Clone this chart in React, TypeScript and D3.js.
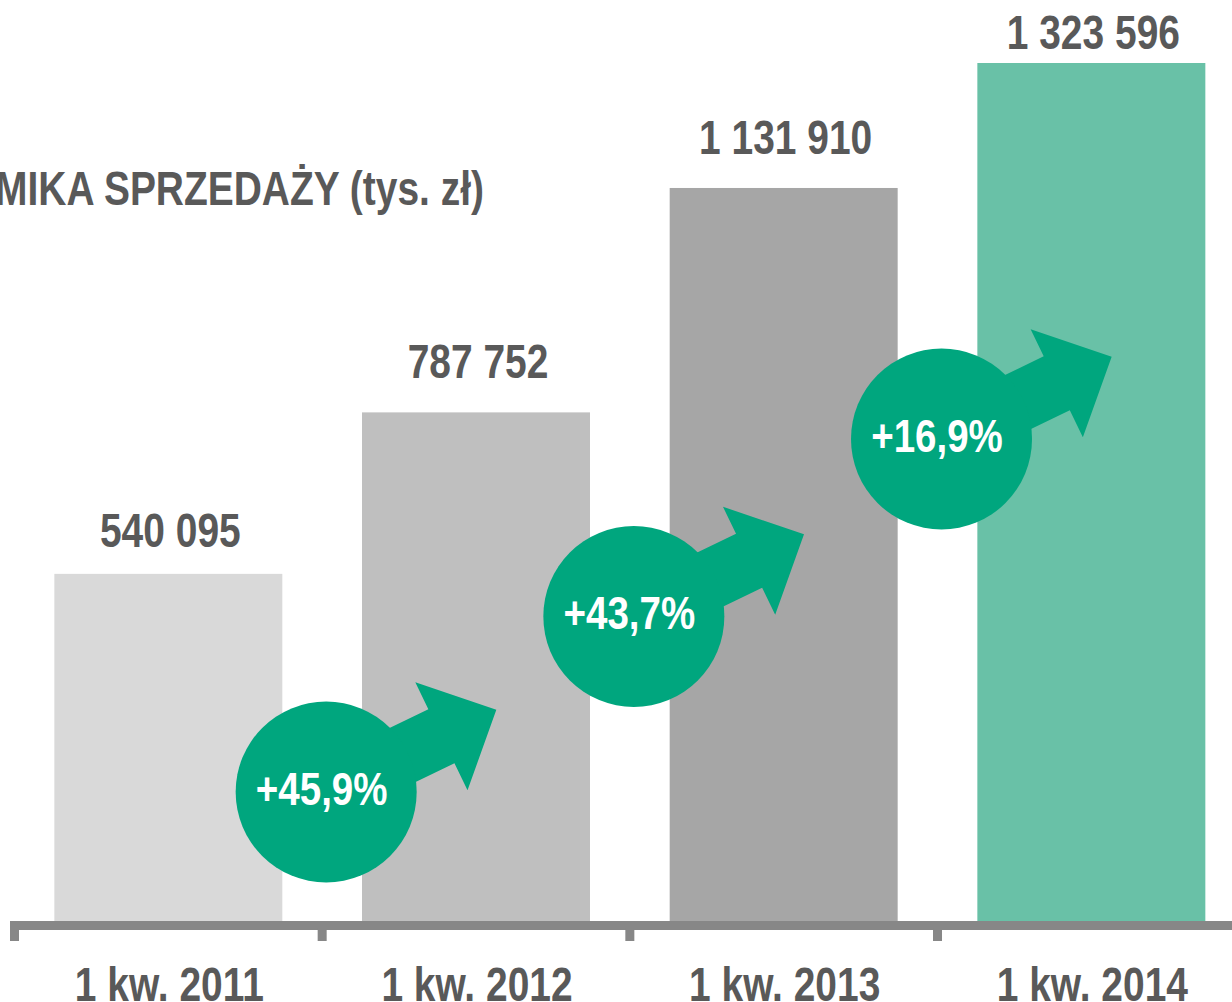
import React from "react";
import * as d3 from "d3";

const categories = ["1 kw. 2011", "1 kw. 2012", "1 kw. 2013", "1 kw. 2014"];
const values = [540095, 787752, 1131910, 1323596];
const valueLabels = ["540 095", "787 752", "1 131 910", "1 323 596"];
const barColors = ["#D9D9D9", "#BFBFBF", "#A6A6A6", "#69C1A7"];
const growthLabels = ["+45,9%", "+43,7%", "+16,9%"];
const titleText = "DYNAMIKA SPRZEDAŻY (tys. zł)";

// layout
const W = 1232;
const H = 1002;
const xStart = 14.5;
const step = 307.67;
const labelGaps = [27, 34, 34, 14];
const badgeY = [792, 616.5, 439];
const FONT = "'Liberation Sans', Arial, sans-serif";
const TEXT = "#595959";
const GREEN = "#00A67E";
const AXIS = "#878787";
const NARROW = 0.82;

function NText(props: {
  x: number;
  y: number;
  anchor?: string;
  size: number;
  fill: string;
  children: React.ReactNode;
}) {
  return (
    <g transform={`translate(${props.x},${props.y}) scale(${NARROW},1)`}>
      <text
        x={0}
        y={0}
        textAnchor={props.anchor || "middle"}
        fontFamily={FONT}
        fontWeight="bold"
        fontSize={props.size}
        fill={props.fill}
      >
        {props.children}
      </text>
    </g>
  );
}

export default function App() {
  const x = d3
    .scaleBand<string>()
    .domain(categories)
    .range([xStart, xStart + step * categories.length])
    .paddingInner(0.259)
    .paddingOuter(0.1295);
  const y = d3.scaleLinear().domain([0, 1323596]).range([926, 63]);
  const bw = x.bandwidth();
  const ticks = d3.range(categories.length).map((i) => xStart + step * i);

  const angle = -25.8;
  const arrowPath =
    "M40,-30 L128,-30 L128,-60 L189,0 L128,60 L128,30 L40,30 Z";

  return (
    <svg width={W} height={H} style={{ display: "block", position: "absolute", left: 0, top: 0 }}>
      <rect x={0} y={0} width={W} height={H} fill="#ffffff" />
      {/* title */}
      <NText x={484} y={205} anchor="end" size={47.5} fill={TEXT}>
        {titleText}
      </NText>
      {/* bars */}
      {categories.map((c, i) => (
        <rect
          key={c}
          x={x(c)}
          y={y(values[i])}
          width={bw}
          height={y(0) - y(values[i])}
          fill={barColors[i]}
        />
      ))}
      {/* value labels */}
      {categories.map((c, i) => (
        <NText
          key={"v" + c}
          x={(x(c) as number) + bw / 2 + 2}
          y={y(values[i]) - labelGaps[i]}
          size={47.5}
          fill={TEXT}
        >
          {valueLabels[i]}
        </NText>
      ))}
      {/* axis */}
      <rect x={10} y={921} width={W - 10} height={9} fill={AXIS} />
      {ticks.map((t, i) => (
        <rect key={"t" + i} x={t - 4.5} y={928} width={9} height={13} fill={AXIS} />
      ))}
      {categories.map((c) => (
        <NText
          key={"l" + c}
          x={(x(c) as number) + bw / 2 + 1}
          y={1001}
          size={47.5}
          fill={TEXT}
        >
          {c}
        </NText>
      ))}
      {/* growth badges */}
      {growthLabels.map((g, i) => {
        const cx = xStart + step * (i + 1) + 4;
        const cy = badgeY[i];
        return (
          <g key={"g" + i} transform={`translate(${cx},${cy})`}>
            <path d={arrowPath} transform={`rotate(${angle})`} fill={GREEN} />
            <circle cx={0} cy={0} r={90.5} fill={GREEN} />
            <NText x={-4.5} y={12.5} size={47} fill="#ffffff">
              {g}
            </NText>
          </g>
        );
      })}
    </svg>
  );
}
